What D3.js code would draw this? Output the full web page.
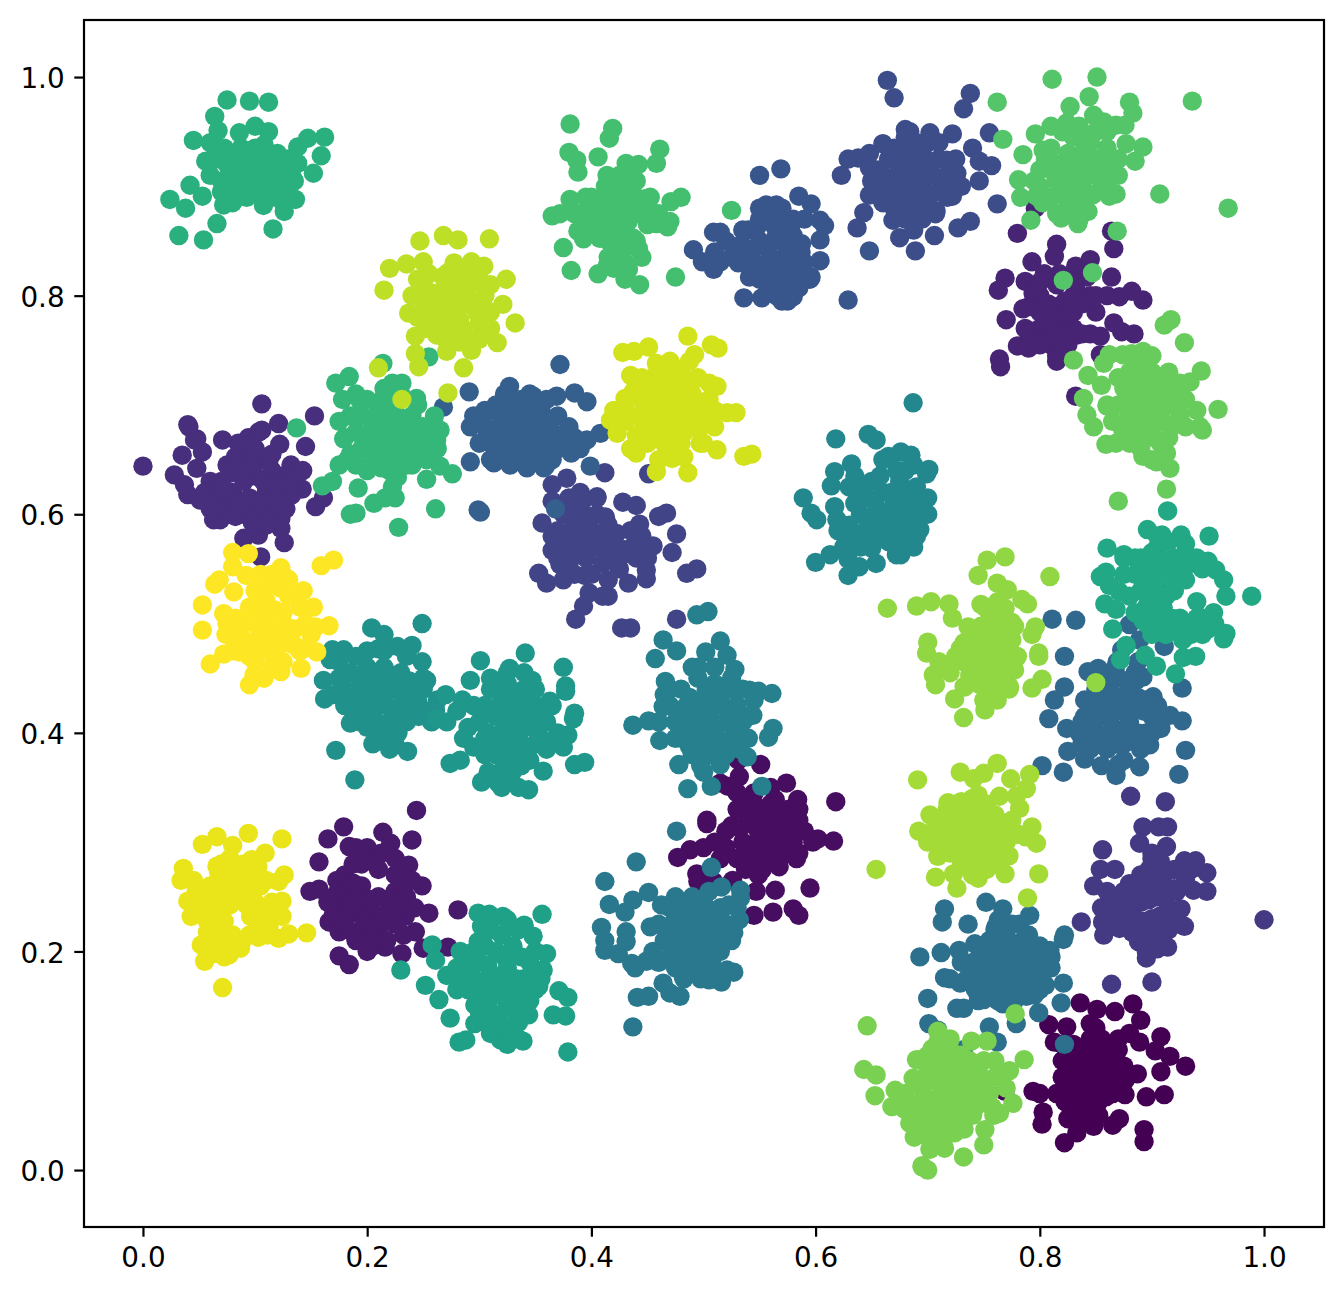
<!DOCTYPE html>
<html><head><meta charset="utf-8">
<script src="https://cdnjs.cloudflare.com/ajax/libs/d3/7.8.5/d3.min.js"></script>
<style>html,body{margin:0;padding:0;background:#fff}svg{display:block}</style>
</head><body><div id="chart"></div>
<script>
const xTicks=[0,0.2,0.4,0.6,0.8,1.0];
const yTicks=[0,0.2,0.4,0.6,0.8,1.0];
const c00=[[.836,.153],[.851,.147],[.867,.145],[.883,.152],[.890,.137],[.808,.133],[.824,.131],[.880,.125],[.845,.134],[.908,.122],[.889,.117],[.903,.109],[.916,.104],[.930,.095],[.908,.090],[.887,.088],[.876,.082],[.911,.069],[.895,.067],[.876,.069],[.794,.072],[.769,.072],[.803,.053],[.802,.042],[.825,.047],[.833,.034],[.822,.025],[.848,.040],[.865,.041],[.871,.047],[.893,.037],[.893,.026],[.859,.067],[.813,.117],[.839,.061],[.83,.115],[.845,.12],[.86,.115],[.82,.10],[.835,.10],[.85,.105],[.865,.10],[.82,.085],[.835,.085],[.85,.09],[.865,.085],[.825,.07],[.84,.07],[.855,.075],[.815,.07],[.83,.055],[.845,.055],[.80,.07],[.87,.11],[.8275,.1075],[.8425,.1125],[.8575,.11],[.8275,.0925],[.8425,.095],[.8575,.0975],[.8275,.0775],[.8425,.08],[.8575,.0825],[.8375,.0625],[.8525,.0625],[.8225,.0625],[.8375,.0475],[.8525,.05],[.85,.13],[.855,.12],[.87,.12],[.875,.095],[.82,.115],[.865,.07]];
const c01=[[.531,.375],[.551,.371],[.532,.360],[.574,.354],[.618,.337],[.522,.351],[.515,.354],[.535,.339],[.564,.339],[.584,.339],[.503,.320],[.577,.329],[.602,.303],[.616,.301],[.488,.293],[.477,.286],[.494,.271],[.495,.264],[.509,.264],[.526,.265],[.547,.255],[.564,.256],[.595,.258],[.580,.239],[.585,.233],[.562,.236],[.545,.233],[.549,.270],[.583,.285],[.570,.290],[.503,.317],[.53,.33],[.545,.335],[.56,.335],[.575,.33],[.525,.315],[.54,.32],[.555,.32],[.57,.315],[.585,.32],[.535,.30],[.55,.305],[.565,.30],[.58,.30],[.59,.31],[.53,.285],[.545,.285],[.56,.285],[.575,.29],[.51,.30],[.52,.295],[.5375,.3275],[.5525,.3275],[.5675,.325],[.5325,.3125],[.5475,.3125],[.5625,.3075],[.5775,.3075],[.5425,.2925],[.5575,.295],[.5725,.295],[.5375,.275],[.5525,.275],[.5675,.2775],[.585,.29],[.52,.31],[.515,.285],[.5975,.3],[.585,.33],[.545,.345],[.56,.35],[.53,.345],[.5,.295]];
const c02=[[.244,.329],[.179,.314],[.165,.303],[.157,.282],[.214,.309],[.240,.302],[.221,.299],[.184,.296],[.237,.279],[.249,.260],[.255,.235],[.281,.238],[.149,.255],[.157,.257],[.166,.227],[.175,.218],[.234,.232],[.243,.218],[.231,.198],[.250,.203],[.272,.204],[.175,.196],[.184,.188],[.216,.204],[.201,.203],[.173,.265],[.113,.229],[.18,.27],[.195,.28],[.21,.275],[.225,.27],[.18,.255],[.195,.26],[.21,.25],[.225,.255],[.175,.24],[.19,.24],[.205,.235],[.22,.24],[.18,.225],[.195,.22],[.21,.22],[.225,.225],[.19,.21],[.205,.205],[.235,.25],[.20,.295],[.225,.285],[.19,.295],[.1875,.2625],[.1875,.2475],[.2025,.2475],[.2175,.2475],[.2325,.2625],[.2175,.2325],[.1825,.2325],[.1975,.2285],[.2125,.2275],[.2275,.24],[.1875,.2175],[.2025,.2125],[.2175,.21],[.1725,.2525],[.2425,.24],[.2,.285],[.2125,.29],[.1875,.28],[.17,.235],[.24,.265],[.2325,.215],[.2,.2],[.165,.245]];
const c03=[[.796,.880],[.780,.857],[.864,.859],[.866,.843],[.815,.847],[.813,.836],[.793,.831],[.804,.820],[.832,.827],[.845,.833],[.842,.817],[.864,.817],[.769,.816],[.763,.805],[.787,.813],[.794,.802],[.871,.799],[.882,.804],[.892,.796],[.785,.788],[.770,.778],[.787,.770],[.780,.754],[.790,.752],[.764,.742],[.765,.735],[.815,.740],[.833,.764],[.854,.763],[.866,.775],[.873,.767],[.884,.765],[.854,.746],[.832,.708],[.80,.80],[.815,.81],[.83,.80],[.845,.80],[.86,.80],[.80,.785],[.815,.79],[.83,.785],[.85,.785],[.80,.77],[.815,.775],[.83,.77],[.845,.765],[.81,.755],[.825,.755],[.815,.745],[.81,.76],[.8075,.7925],[.8225,.795],[.8375,.7925],[.8075,.7775],[.8225,.78],[.8075,.7625],[.8225,.7625],[.8375,.765],[.8175,.7475],[.8325,.805],[.8175,.82],[.83,.8125],[.8,.8125],[.79,.79],[.79,.765],[.8,.755],[.85,.8]];
const c04=[[0,.644],[.028,.636],[.048,.642],[.035,.654],[.041,.680],[.048,.669],[.053,.657],[.040,.618],[.037,.627],[.071,.668],[.094,.670],[.106,.677],[.121,.683],[.122,.664],[.145,.662],[.153,.690],[.154,.607],[.161,.615],[.142,.623],[.132,.645],[.138,.637],[.063,.595],[.069,.595],[.123,.596],[.123,.587],[.126,.574],[.090,.578],[.103,.581],[.105,.561],[.051,.613],[.106,.701],[.040,.682],[.046,.668],[.103,.675],[.075,.645],[.09,.655],[.105,.65],[.07,.63],[.085,.64],[.10,.635],[.115,.64],[.125,.635],[.065,.615],[.08,.62],[.095,.615],[.11,.62],[.125,.62],[.075,.605],[.09,.60],[.105,.60],[.115,.605],[.10,.585],[.06,.63],[.135,.63],[.0825,.6525],[.0975,.645],[.1125,.65],[.0775,.6375],[.09,.63],[.1075,.63],[.12,.6275],[.0725,.6225],[.0875,.61],[.1025,.61],[.118,.6125],[.07,.6075],[.0825,.598],[.0975,.5925],[.11,.59],[.055,.62],[.1325,.6175],[.1275,.605],[.1,.66],[.085,.665],[.115,.655],[.06,.605],[.1425,.64]];
const c05=[[.881,.342],[.912,.337],[.856,.293],[.892,.314],[.906,.314],[.914,.314],[.889,.299],[.913,.296],[.900,.290],[.929,.283],[.939,.283],[.949,.272],[.949,.255],[.937,.256],[.854,.275],[.867,.275],[.848,.260],[.855,.240],[.856,.227],[.857,.215],[.837,.227],[1.0,.229],[.864,.170],[.900,.172],[.895,.194],[.888,.209],[.914,.204],[.929,.223],[.871,.221],[.922,.255],[.926,.239],[.880,.262],[.875,.25],[.89,.245],[.905,.25],[.885,.23],[.90,.23],[.915,.24],[.90,.215],[.915,.22],[.89,.215],[.895,.20],[.905,.27],[.90,.285],[.89,.27],[.87,.235],[.92,.275],[.93,.265],[.91,.26],[.86,.255],[.8825,.2475],[.8975,.2475],[.8925,.2275],[.9075,.2325],[.8825,.2175],[.9075,.2175],[.8975,.2075],[.9,.26],[.9125,.2475],[.8925,.26],[.9075,.2825],[.8975,.275],[.9125,.2725],[.88,.24],[.865,.245],[.875,.225],[.92,.2575],[.92,.225],[.905,.2025],[.875,.255],[.86,.23],[.935,.275]];
const c06=[[.412,.638],[.451,.637],[.378,.633],[.365,.627],[.365,.612],[.356,.592],[.405,.616],[.387,.607],[.428,.611],[.440,.608],[.467,.601],[.460,.598],[.443,.591],[.476,.582],[.472,.565],[.455,.571],[.439,.573],[.365,.567],[.372,.554],[.353,.546],[.360,.537],[.394,.544],[.398,.528],[.393,.516],[.386,.504],[.415,.525],[.427,.496],[.435,.496],[.476,.504],[.494,.550],[.485,.546],[.449,.549],[.433,.537],[.449,.541],[.375,.60],[.39,.605],[.405,.60],[.37,.585],[.385,.59],[.40,.585],[.415,.59],[.375,.57],[.39,.575],[.405,.57],[.42,.575],[.38,.555],[.395,.56],[.41,.555],[.425,.55],[.445,.58],[.45,.56],[.425,.56],[.39,.62],[.3825,.5975],[.3975,.5975],[.4125,.5975],[.3775,.5775],[.3925,.5825],[.4075,.5775],[.4225,.5825],[.3825,.5625],[.3975,.5675],[.4125,.5625],[.385,.545],[.4,.545],[.415,.54],[.43,.5675],[.44,.56],[.435,.585],[.37,.56],[.365,.58],[.3925,.6125],[.405,.615],[.38,.615],[.375,.54],[.41,.525],[.445,.565]];
const c07=[[.664,.997],[.670,.981],[.680,.952],[.660,.939],[.648,.930],[.638,.926],[.629,.925],[.623,.910],[.648,.917],[.648,.892],[.643,.876],[.637,.862],[.669,.869],[.675,.853],[.689,.841],[.738,.985],[.732,.971],[.755,.949],[.740,.935],[.746,.923],[.757,.919],[.746,.905],[.762,.884],[.738,.868],[.727,.862],[.706,.855],[.707,.875],[.722,.891],[.722,.948],[.702,.949],[.684,.950],[.726,.912],[.717,.924],[.665,.925],[.68,.93],[.695,.93],[.71,.925],[.66,.91],[.675,.915],[.69,.915],[.705,.91],[.72,.915],[.665,.895],[.68,.90],[.695,.90],[.71,.895],[.72,.90],[.67,.88],[.685,.885],[.70,.885],[.68,.87],[.695,.87],[.66,.90],[.69,.94],[.6725,.9225],[.6875,.9225],[.7025,.9225],[.6675,.905],[.6825,.9075],[.6975,.9075],[.7125,.9075],[.6725,.8875],[.6875,.8925],[.7025,.8925],[.7175,.89],[.6775,.875],[.6925,.8775],[.7075,.8775],[.6875,.86],[.655,.915],[.725,.925],[.7,.94],[.68,.945],[.65,.905],[.66,.885],[.71,.94],[.73,.9],[.67,.935]];
const c08=[[.550,.910],[.569,.916],[.585,.891],[.596,.884],[.604,.869],[.608,.864],[.604,.851],[.556,.883],[.565,.883],[.515,.858],[.509,.858],[.491,.842],[.499,.831],[.509,.824],[.515,.831],[.531,.830],[.541,.817],[.536,.798],[.552,.798],[.570,.795],[.580,.799],[.585,.807],[.596,.817],[.604,.832],[.587,.840],[.629,.796],[.648,.841],[.54,.86],[.55,.87],[.56,.875],[.57,.87],[.58,.87],[.535,.845],[.55,.85],[.565,.855],[.58,.855],[.545,.83],[.56,.835],[.575,.84],[.55,.815],[.565,.82],[.58,.82],[.59,.83],[.53,.845],[.52,.85],[.57,.805],[.59,.87],[.5475,.8625],[.5625,.865],[.5775,.8625],[.5425,.8375],[.5575,.8425],[.5725,.8475],[.5875,.8475],[.5375,.83],[.5525,.825],[.5675,.8275],[.5825,.83],[.5575,.8075],[.5725,.8125],[.5875,.8125],[.525,.835],[.55,.88],[.57,.88],[.565,.80],[.575,.795],[.535,.86],[.51,.84],[.595,.815]];
const c09=[[.291,.712],[.268,.698],[.372,.737],[.327,.717],[.348,.708],[.385,.711],[.396,.703],[.369,.708],[.292,.648],[.313,.647],[.292,.680],[.299,.604],[.301,.602],[.399,.644],[.408,.674],[.396,.668],[.382,.656],[.359,.644],[.341,.645],[.326,.653],[.368,.605],[.31,.695],[.325,.70],[.34,.695],[.355,.695],[.37,.69],[.305,.68],[.32,.685],[.335,.68],[.35,.68],[.365,.675],[.38,.68],[.31,.665],[.325,.67],[.34,.665],[.355,.665],[.37,.66],[.385,.67],[.32,.655],[.335,.65],[.35,.65],[.365,.65],[.345,.71],[.295,.69],[.31,.65],[.30,.665],[.3175,.6925],[.3325,.69],[.3475,.69],[.3625,.685],[.3125,.675],[.3275,.675],[.3425,.6725],[.3575,.6725],[.3725,.6725],[.3175,.66],[.3325,.66],[.3475,.6575],[.3625,.6575],[.3775,.665],[.3275,.645],[.3425,.6425],[.3575,.6425],[.3375,.705],[.3225,.71],[.36,.705],[.305,.695],[.39,.66],[.315,.7]];
const c10=[[.811,.504],[.832,.503],[.822,.470],[.880,.499],[.889,.485],[.911,.479],[.873,.476],[.869,.465],[.843,.456],[.852,.459],[.862,.451],[.822,.442],[.813,.430],[.808,.413],[.824,.404],[.825,.383],[.840,.376],[.870,.371],[.868,.361],[.889,.369],[.802,.370],[.821,.364],[.927,.441],[.927,.411],[.930,.384],[.924,.362],[.908,.404],[.916,.416],[.898,.389],[.886,.448],[.901,.433],[.892,.451],[.85,.43],[.865,.435],[.88,.44],[.895,.43],[.84,.415],[.855,.415],[.87,.42],[.885,.425],[.90,.415],[.85,.40],[.865,.405],[.88,.41],[.895,.40],[.86,.385],[.875,.39],[.89,.385],[.845,.385],[.87,.45],[.885,.455],[.86,.445],[.835,.40],[.8575,.4275],[.8725,.4325],[.8875,.4325],[.8475,.4225],[.8625,.42],[.8775,.4225],[.8925,.42],[.8475,.4075],[.8575,.3975],[.8725,.4],[.8875,.4],[.8675,.39],[.8825,.3925],[.8525,.39],[.8375,.41],[.8375,.39],[.875,.375],[.855,.37],[.85,.44],[.8775,.4475],[.84,.43],[.9,.4],[.905,.425],[.8675,.46],[.8875,.465]];
const c11=[[.715,.239],[.713,.227],[.736,.225],[.752,.245],[.767,.239],[.763,.229],[.761,.223],[.782,.225],[.791,.233],[.822,.215],[.821,.211],[.693,.195],[.712,.199],[.728,.201],[.742,.207],[.700,.157],[.701,.134],[.709,.128],[.809,.201],[.715,.176],[.729,.171],[.821,.171],[.805,.169],[.819,.153],[.799,.144],[.779,.134],[.755,.131],[.762,.117],[.732,.110],[.726,.148],[.732,.148],[.750,.156],[.767,.152],[.788,.159],[.822,.115],[.755,.21],[.77,.215],[.785,.21],[.80,.205],[.75,.195],[.765,.20],[.78,.195],[.795,.19],[.81,.185],[.745,.18],[.76,.185],[.775,.18],[.79,.175],[.755,.165],[.77,.165],[.785,.16],[.74,.19],[.735,.175],[.80,.165],[.7625,.2075],[.7775,.205],[.7925,.2],[.7575,.19],[.7725,.19],[.7875,.185],[.8025,.18],[.7525,.175],[.7675,.175],[.7825,.17],[.7975,.175],[.7625,.155],[.7775,.155],[.7475,.205],[.73,.19],[.7425,.165],[.81,.195],[.795,.16],[.775,.225],[.76,.22],[.72,.175],[.8,.195],[.745,.155],[.79,.215]];
const c12=[[.476,.310],[.440,.282],[.412,.264],[.507,.277],[.516,.259],[.533,.256],[.533,.249],[.532,.229],[.451,.254],[.437,.247],[.416,.243],[.430,.236],[.409,.222],[.412,.210],[.412,.201],[.424,.198],[.431,.218],[.431,.209],[.439,.185],[.436,.189],[.449,.191],[.527,.217],[.527,.181],[.521,.183],[.516,.172],[.505,.174],[.482,.177],[.464,.171],[.479,.159],[.470,.162],[.451,.159],[.441,.158],[.437,.131],[.515,.236],[.47,.24],[.485,.245],[.50,.245],[.515,.24],[.46,.225],[.475,.23],[.49,.23],[.505,.23],[.52,.225],[.465,.21],[.48,.215],[.495,.215],[.51,.215],[.47,.195],[.485,.20],[.50,.20],[.515,.20],[.475,.185],[.49,.185],[.505,.185],[.455,.20],[.4775,.235],[.4925,.2375],[.5075,.2375],[.4675,.2175],[.4825,.2225],[.4975,.2225],[.5125,.2275],[.4725,.2025],[.4875,.2075],[.5025,.2075],[.5175,.2125],[.4775,.19],[.4925,.1925],[.5075,.1925],[.4825,.175],[.4975,.175],[.51,.175],[.49,.25],[.505,.255],[.475,.25],[.4625,.2425],[.525,.21],[.46,.19],[.5225,.2425],[.4525,.2225],[.53,.24]];
const c13=[[.504,.511],[.494,.508],[.464,.485],[.476,.475],[.457,.468],[.515,.484],[.502,.474],[.521,.471],[.528,.458],[.490,.460],[.466,.447],[.561,.436],[.541,.439],[.549,.438],[.437,.407],[.451,.411],[.464,.424],[.461,.393],[.562,.404],[.558,.396],[.544,.416],[.539,.378],[.515,.371],[.478,.371],[.500,.364],[.486,.349],[.507,.351],[.552,.351],[.48,.44],[.495,.45],[.51,.445],[.525,.44],[.47,.425],[.485,.425],[.50,.43],[.515,.43],[.53,.425],[.475,.41],[.49,.41],[.505,.415],[.52,.41],[.535,.41],[.48,.395],[.495,.395],[.51,.40],[.525,.395],[.54,.395],[.49,.38],[.505,.38],[.52,.38],[.545,.43],[.4875,.4325],[.5025,.44],[.5175,.4375],[.4775,.4175],[.4925,.4175],[.5075,.4225],[.5225,.4175],[.4825,.4025],[.4975,.4025],[.5125,.4075],[.5275,.4025],[.4875,.3875],[.5025,.3875],[.5175,.3875],[.5325,.385],[.4975,.37],[.47,.44],[.46,.41],[.475,.395],[.54,.415],[.535,.44],[.495,.46],[.51,.46],[.525,.45],[.465,.435]];
const c14=[[.687,.702],[.618,.669],[.647,.673],[.654,.668],[.665,.653],[.676,.657],[.685,.654],[.632,.646],[.617,.639],[.614,.626],[.589,.615],[.596,.601],[.601,.595],[.617,.607],[.619,.595],[.600,.556],[.613,.563],[.629,.559],[.629,.544],[.639,.552],[.654,.555],[.672,.563],[.676,.563],[.650,.569],[.633,.579],[.701,.641],[.699,.637],[.696,.611],[.693,.586],[.687,.595],[.645,.615],[.66,.62],[.675,.63],[.69,.625],[.64,.60],[.655,.605],[.67,.61],[.685,.61],[.645,.585],[.66,.59],[.675,.595],[.69,.595],[.665,.575],[.68,.58],[.635,.61],[.63,.625],[.68,.64],[.63,.59],[.635,.635],[.65,.63],[.6525,.6125],[.6675,.62],[.6825,.62],[.6475,.5925],[.6625,.5975],[.6775,.6025],[.6925,.61],[.6525,.5775],[.6675,.5825],[.6825,.5875],[.6725,.5675],[.6875,.57],[.6425,.6225],[.6575,.635],[.6725,.64],[.6875,.645],[.64,.57],[.66,.65],[.62,.585],[.635,.575],[.625,.57],[.7,.615],[.7,.6],[.69,.58]];
const c15=[[.249,.500],[.204,.496],[.215,.490],[.240,.480],[.210,.477],[.169,.476],[.179,.476],[.167,.467],[.249,.465],[.161,.448],[.162,.431],[.253,.448],[.246,.415],[.227,.479],[.188,.418],[.185,.409],[.194,.410],[.213,.393],[.225,.389],[.236,.383],[.172,.384],[.189,.357],[.261,.421],[.185,.455],[.20,.46],[.215,.46],[.23,.455],[.18,.44],[.195,.445],[.21,.445],[.225,.44],[.24,.44],[.185,.425],[.20,.43],[.215,.43],[.23,.425],[.245,.43],[.205,.415],[.22,.41],[.235,.41],[.21,.40],[.22,.40],[.175,.465],[.19,.47],[.255,.42],[.1925,.4525],[.2075,.4525],[.2225,.4525],[.1875,.4325],[.2025,.4375],[.2175,.4375],[.2325,.4325],[.1925,.42],[.2075,.4225],[.2225,.42],[.2375,.4225],[.2125,.4075],[.2275,.4],[.2,.405],[.2375,.4475],[.25,.45],[.175,.45],[.17,.435],[.18,.425],[.2,.475],[.215,.475],[.235,.47],[.25,.44],[.2625,.43],[.205,.39],[.19,.4125],[.2575,.41],[.22,.385]];
const c16=[[.301,.466],[.292,.448],[.270,.435],[.285,.430],[.271,.410],[.262,.413],[.274,.372],[.283,.375],[.302,.355],[.308,.364],[.317,.354],[.295,.387],[.286,.395],[.341,.473],[.375,.460],[.377,.443],[.377,.438],[.385,.418],[.384,.413],[.379,.398],[.375,.387],[.360,.392],[.385,.371],[.394,.373],[.357,.365],[.344,.348],[.322,.354],[.327,.459],[.347,.448],[.363,.429],[.31,.44],[.325,.445],[.34,.44],[.305,.425],[.32,.43],[.335,.425],[.35,.425],[.30,.41],[.315,.415],[.33,.41],[.345,.41],[.36,.41],[.305,.395],[.32,.395],[.335,.395],[.35,.39],[.315,.38],[.33,.38],[.345,.375],[.32,.365],[.33,.365],[.3175,.4375],[.3325,.4325],[.3475,.4275],[.3125,.42],[.3275,.42],[.3425,.4175],[.3575,.42],[.3075,.4],[.3225,.405],[.3375,.4025],[.3525,.4],[.3125,.3875],[.3275,.3875],[.3425,.385],[.3225,.3725],[.3375,.37],[.295,.425],[.29,.405],[.28,.42],[.365,.425],[.37,.4],[.36,.385],[.325,.455],[.34,.455],[.35,.44],[.31,.45],[.305,.38],[.32,.35],[.335,.35]];
const c17=[[.299,.235],[.309,.234],[.302,.223],[.258,.206],[.261,.192],[.230,.183],[.252,.169],[.283,.200],[.264,.156],[.274,.139],[.288,.119],[.282,.117],[.299,.209],[.271,.178],[.296,.134],[.319,.119],[.296,.151],[.321,.232],[.325,.229],[.356,.234],[.340,.224],[.348,.214],[.360,.198],[.357,.183],[.353,.168],[.371,.164],[.379,.158],[.366,.142],[.377,.141],[.379,.108],[.339,.118],[.322,.119],[.344,.142],[.30,.19],[.315,.20],[.33,.205],[.345,.19],[.295,.175],[.31,.18],[.325,.185],[.34,.175],[.35,.165],[.30,.16],[.315,.165],[.33,.165],[.345,.155],[.31,.145],[.325,.15],[.335,.135],[.31,.125],[.325,.13],[.29,.19],[.285,.175],[.3075,.1875],[.3225,.195],[.3375,.195],[.3025,.1675],[.3175,.1725],[.3325,.175],[.3475,.18],[.3075,.1525],[.3225,.1575],[.3375,.16],[.3175,.1375],[.3325,.145],[.34,.145],[.305,.205],[.32,.215],[.335,.22],[.35,.2],[.295,.2],[.28,.185],[.3,.145],[.325,.115],[.335,.12],[.305,.135],[.29,.165],[.31,.22],[.355,.175],[.28,.165]];
const c18=[[.914,.603],[.951,.580],[.896,.586],[.909,.581],[.926,.581],[.930,.573],[.860,.569],[.875,.563],[.950,.557],[.957,.549],[.964,.540],[.966,.525],[.989,.525],[.854,.543],[.859,.547],[.862,.535],[.871,.529],[.858,.518],[.868,.513],[.865,.495],[.940,.520],[.956,.500],[.966,.491],[.964,.486],[.877,.480],[.872,.467],[.894,.471],[.904,.461],[.921,.454],[.939,.470],[.928,.469],[.892,.503],[.908,.493],[.89,.56],[.905,.57],[.92,.56],[.935,.555],[.885,.545],[.90,.55],[.915,.545],[.93,.54],[.89,.53],[.905,.535],[.92,.53],[.895,.515],[.91,.515],[.925,.505],[.94,.505],[.905,.50],[.92,.495],[.935,.49],[.95,.495],[.945,.55],[.875,.56],[.88,.525],[.8975,.5525],[.9125,.5575],[.9275,.55],[.8925,.5375],[.9075,.5425],[.9225,.5375],[.8975,.5225],[.9125,.525],[.9025,.5075],[.9175,.505],[.9325,.4975],[.9125,.49],[.9275,.485],[.945,.505],[.9,.565],[.915,.575],[.93,.565],[.94,.56],[.885,.56],[.875,.545],[.945,.49],[.895,.5],[.885,.51],[.9,.49],[.905,.58],[.955,.51]];
const c19=[[.075,.979],[.095,.978],[.112,.977],[.064,.964],[.045,.942],[.067,.951],[.086,.949],[.100,.955],[.112,.950],[.162,.945],[.147,.944],[.138,.936],[.159,.928],[.152,.912],[.138,.921],[.123,.926],[.108,.938],[.056,.923],[.024,.888],[.038,.880],[.042,.901],[.053,.891],[.072,.883],[.066,.866],[.032,.855],[.054,.851],[.116,.861],[.126,.877],[.136,.888],[.075,.92],[.085,.925],[.095,.93],[.105,.925],[.115,.92],[.125,.915],[.08,.905],[.09,.91],[.10,.91],[.11,.905],[.12,.90],[.13,.90],[.07,.895],[.085,.895],[.10,.895],[.115,.89],[.125,.885],[.135,.905],[.065,.925],[.07,.905],[.0825,.9125],[.0975,.92],[.11,.9125],[.1225,.91],[.0775,.9],[.0925,.9],[.1075,.8975],[.1175,.9],[.0925,.89],[.1075,.8825],[.12,.8925],[.1275,.8925],[.1,.935],[.11,.93],[.12,.93],[.1325,.91],[.13,.925],[.0875,.935],[.0725,.935],[.06,.91],[.06,.94],[.08,.885]];
const c20=[[.184,.726],[.172,.720],[.215,.715],[.231,.720],[.214,.738],[.255,.744],[.244,.706],[.178,.705],[.194,.703],[.179,.669],[.265,.677],[.262,.668],[.175,.645],[.160,.626],[.169,.630],[.192,.624],[.276,.637],[.265,.644],[.253,.632],[.225,.615],[.216,.615],[.206,.610],[.190,.601],[.185,.600],[.261,.605],[.228,.588],[.227,.634],[.253,.650],[.137,.679],[.195,.69],[.21,.695],[.225,.70],[.24,.69],[.25,.68],[.19,.675],[.205,.68],[.22,.685],[.235,.675],[.25,.665],[.195,.66],[.21,.665],[.225,.67],[.24,.66],[.205,.65],[.22,.655],[.235,.645],[.19,.645],[.22,.64],[.26,.69],[.185,.69],[.175,.685],[.2025,.6875],[.2175,.6925],[.2325,.6875],[.1975,.6675],[.2125,.6725],[.2275,.6775],[.2425,.675],[.2025,.6575],[.2175,.6625],[.2325,.66],[.2125,.6425],[.2275,.6475],[.2,.64],[.215,.7075],[.2,.705],[.23,.71],[.245,.7],[.2575,.675],[.18,.67],[.185,.655],[.24,.645],[.25,.655],[.2625,.66],[.19,.71],[.1825,.65],[.2225,.625],[.2225,.72]];
const c21=[[.381,.957],[.419,.953],[.416,.944],[.380,.931],[.406,.927],[.461,.934],[.387,.924],[.388,.913],[.458,.921],[.414,.910],[.431,.921],[.442,.920],[.449,.889],[.480,.890],[.471,.886],[.470,.868],[.468,.863],[.458,.866],[.365,.873],[.372,.875],[.381,.888],[.388,.859],[.393,.852],[.375,.844],[.382,.823],[.406,.820],[.414,.827],[.433,.824],[.443,.810],[.475,.817],[.442,.843],[.525,.878],[.40,.89],[.41,.88],[.42,.89],[.43,.90],[.44,.89],[.45,.88],[.40,.875],[.41,.865],[.425,.875],[.44,.875],[.45,.865],[.40,.86],[.415,.85],[.43,.86],[.44,.85],[.425,.84],[.42,.905],[.435,.91],[.415,.835],[.43,.83],[.425,.91],[.4075,.8875],[.4225,.8825],[.4375,.8825],[.4025,.8675],[.4175,.8725],[.4325,.8675],[.4475,.8725],[.4075,.8525],[.4225,.8575],[.4375,.8525],[.4275,.8925],[.4325,.9125],[.4225,.8475],[.4325,.845],[.42,.825],[.44,.905],[.4125,.9],[.46,.875],[.39,.875],[.395,.89],[.385,.875],[.39,.86],[.4525,.89],[.42,.865],[.43,.815],[.445,.835]];
const c22=[[.762,.977],[.811,.998],[.851,1.0],[.844,.982],[.827,.973],[.936,.978],[.880,.977],[.883,.967],[.767,.943],[.785,.929],[.796,.948],[.810,.955],[.824,.958],[.848,.965],[.857,.959],[.868,.956],[.876,.956],[.892,.936],[.877,.939],[.885,.923],[.907,.893],[.968,.880],[.781,.906],[.783,.890],[.792,.869],[.868,.893],[.862,.891],[.834,.866],[.819,.871],[.843,.877],[.803,.933],[.797,.891],[.859,.909],[.821,.814],[.847,.821],[.869,.859],[.815,.92],[.825,.93],[.84,.935],[.85,.925],[.815,.905],[.83,.915],[.845,.91],[.855,.905],[.825,.90],[.84,.895],[.81,.89],[.825,.885],[.84,.88],[.83,.945],[.845,.945],[.86,.935],[.87,.925],[.80,.915],[.80,.90],[.82,.875],[.82,.95],[.8225,.9125],[.8375,.9125],[.8525,.915],[.8225,.8925],[.8325,.8975],[.8475,.8925],[.8175,.8975],[.8325,.925],[.8475,.925],[.8625,.92],[.8125,.9125],[.8325,.8825],[.845,.94],[.835,.955],[.85,.95],[.86,.95],[.805,.925],[.81,.935],[.795,.905],[.8025,.885],[.815,.875],[.8625,.895],[.835,.87],[.87,.91]];
const c23=[[.917,.778],[.911,.773],[.929,.757],[.944,.731],[.934,.721],[.959,.696],[.892,.749],[.882,.747],[.874,.746],[.862,.746],[.857,.738],[.843,.727],[.855,.718],[.830,.741],[.839,.706],[.860,.699],[.842,.691],[.891,.735],[.913,.724],[.848,.680],[.859,.664],[.868,.665],[.892,.653],[.904,.648],[.913,.656],[.916,.642],[.913,.623],[.870,.612],[.945,.677],[.943,.680],[.925,.683],[.874,.677],[.875,.715],[.89,.72],[.905,.715],[.92,.715],[.87,.70],[.885,.705],[.90,.70],[.915,.70],[.88,.69],[.895,.69],[.91,.685],[.925,.69],[.885,.675],[.90,.675],[.915,.67],[.89,.66],[.88,.73],[.90,.73],[.865,.685],[.93,.705],[.8825,.7125],[.8975,.7125],[.9125,.7075],[.8775,.7],[.8925,.7],[.9075,.695],[.9225,.7],[.8875,.6825],[.9025,.6825],[.9175,.68],[.8925,.6675],[.9075,.665],[.8975,.7275],[.9125,.7275],[.8875,.725],[.925,.72],[.87,.725],[.9,.65],[.875,.68],[.86,.7],[.93,.68],[.94,.695],[.88,.665],[.915,.73],[.9,.745]];
const c24=[[.646,.132],[.643,.092],[.654,.087],[.653,.068],[.671,.073],[.668,.058],[.679,.056],[.684,.043],[.688,.030],[.695,.004],[.693,.101],[.687,.084],[.709,.127],[.709,.117],[.704,.111],[.690,.101],[.739,.118],[.753,.118],[.724,.102],[.786,.101],[.773,.091],[.776,.061],[.764,.052],[.759,.050],[.751,.037],[.750,.023],[.724,.034],[.709,.025],[.702,.019],[.732,.012],[.695,.003],[.700,0],[.778,.143],[.70,.09],[.715,.095],[.73,.09],[.745,.09],[.76,.085],[.695,.075],[.71,.08],[.725,.075],[.74,.075],[.755,.07],[.69,.06],[.705,.06],[.72,.06],[.735,.06],[.75,.065],[.695,.045],[.71,.045],[.725,.045],[.74,.05],[.70,.03],[.715,.03],[.69,.035],[.73,.105],[.72,.11],[.7025,.0825],[.7175,.0875],[.7325,.0825],[.7475,.0825],[.6975,.0675],[.7125,.07],[.7275,.0675],[.7425,.0675],[.6975,.0525],[.7125,.0525],[.7275,.0525],[.7425,.0575],[.7025,.0375],[.7175,.0375],[.7325,.0375],[.7075,.0975],[.7225,.0975],[.7375,.1],[.68,.07],[.685,.05],[.7,.105],[.75,.1],[.7575,.0575],[.77,.075],[.72,.12],[.6825,.06],[.715,.02],[.71,.11],[.76,.1]];
const c25=[[.753,.558],[.769,.561],[.809,.543],[.745,.544],[.762,.537],[.771,.531],[.784,.522],[.789,.518],[.751,.515],[.769,.514],[.775,.501],[.719,.518],[.722,.505],[.703,.520],[.690,.516],[.796,.497],[.793,.490],[.736,.497],[.700,.483],[.699,.473],[.729,.477],[.799,.473],[.799,.470],[.705,.453],[.707,.444],[.802,.449],[.793,.441],[.773,.442],[.724,.431],[.732,.414],[.751,.421],[.762,.430],[.733,.442],[.717,.458],[.776,.462],[.664,.514],[.850,.446],[.74,.49],[.755,.495],[.77,.49],[.74,.475],[.755,.48],[.77,.475],[.78,.47],[.725,.47],[.74,.46],[.755,.465],[.77,.455],[.745,.445],[.76,.445],[.75,.43],[.76,.505],[.755,.51],[.71,.465],[.72,.455],[.7475,.4825],[.7625,.4875],[.7475,.4975],[.7325,.4825],[.7475,.4675],[.7625,.4725],[.7325,.465],[.7475,.455],[.7625,.455],[.7575,.435],[.7675,.465],[.775,.485],[.7675,.5025],[.7375,.4525],[.7725,.44],[.7775,.4575],[.7325,.4425],[.7625,.52],[.7475,.5175],[.7775,.4975]];
const c26=[[.691,.357],[.729,.364],[.762,.372],[.750,.363],[.741,.358],[.774,.358],[.791,.362],[.788,.349],[.779,.342],[.764,.342],[.745,.343],[.730,.337],[.718,.336],[.702,.325],[.782,.331],[.692,.310],[.707,.268],[.726,.258],[.745,.267],[.769,.271],[.799,.271],[.789,.249],[.797,.299],[.787,.305],[.779,.307],[.793,.314],[.709,.287],[.723,.271],[.761,.284],[.654,.275],[.715,.32],[.73,.325],[.745,.33],[.76,.325],[.72,.305],[.735,.31],[.75,.315],[.765,.31],[.775,.32],[.72,.29],[.735,.295],[.75,.30],[.765,.295],[.73,.28],[.745,.285],[.76,.28],[.74,.27],[.71,.30],[.725,.335],[.705,.31],[.74,.34],[.7225,.3175],[.7375,.3175],[.7525,.3225],[.7675,.3175],[.7275,.2975],[.7425,.3025],[.7575,.3075],[.735,.285],[.7425,.2925],[.7575,.29],[.7375,.2775],[.7525,.275],[.7125,.31],[.7125,.2925],[.7325,.3325],[.7175,.33],[.7525,.335],[.77,.3],[.7725,.2875],[.7,.3],[.78,.3075]];
const c27=[[.247,.850],[.268,.855],[.281,.851],[.309,.852],[.220,.825],[.235,.829],[.250,.831],[.215,.805],[.237,.784],[.272,.821],[.293,.831],[.304,.827],[.324,.815],[.321,.792],[.332,.775],[.316,.757],[.243,.763],[.243,.747],[.246,.735],[.271,.749],[.293,.750],[.286,.734],[.262,.764],[.272,.711],[.210,.734],[.231,.705],[.25,.81],[.26,.80],[.27,.81],[.28,.80],[.29,.81],[.30,.815],[.25,.795],[.265,.785],[.28,.785],[.295,.795],[.305,.80],[.27,.795],[.26,.775],[.285,.77],[.30,.775],[.31,.785],[.275,.77],[.295,.76],[.245,.78],[.24,.80],[.255,.82],[.29,.825],[.285,.81],[.2575,.8025],[.2725,.8025],[.2875,.8025],[.2575,.7875],[.2725,.7875],[.2875,.7925],[.3025,.79],[.2675,.7775],[.2825,.7775],[.2975,.785],[.2675,.8175],[.2825,.8175],[.2975,.8125],[.2525,.77],[.2675,.765],[.2825,.7575],[.31,.81],[.31,.77],[.25,.785],[.245,.815],[.2775,.83],[.3,.825],[.27,.76],[.3075,.765],[.3,.76]];
const c28=[[.486,.763],[.507,.755],[.513,.752],[.492,.746],[.428,.748],[.438,.749],[.451,.753],[.435,.727],[.458,.738],[.512,.717],[.521,.693],[.529,.693],[.417,.686],[.430,.706],[.497,.686],[.423,.674],[.440,.656],[.458,.639],[.486,.638],[.472,.651],[.512,.659],[.536,.653],[.543,.655],[.497,.665],[.45,.72],[.465,.725],[.48,.73],[.495,.725],[.445,.705],[.46,.71],[.475,.715],[.49,.71],[.505,.705],[.44,.69],[.455,.695],[.47,.70],[.485,.695],[.50,.69],[.445,.675],[.46,.68],[.475,.685],[.49,.68],[.45,.665],[.465,.665],[.48,.665],[.46,.65],[.43,.685],[.47,.74],[.4575,.7125],[.4725,.7175],[.4875,.7175],[.4525,.7],[.4675,.7],[.4825,.7025],[.4975,.7025],[.4525,.685],[.4675,.69],[.4825,.6875],[.4975,.68],[.4525,.6675],[.4675,.6725],[.4825,.675],[.4575,.7275],[.4725,.735],[.4875,.74],[.4375,.7125],[.44,.6725],[.43,.7],[.51,.695],[.51,.68],[.47,.655],[.4825,.6525],[.5,.665],[.445,.725],[.42,.695],[.505,.72],[.435,.66]];
const c29=[[.066,.305],[.053,.298],[.080,.297],[.094,.308],[.124,.303],[.109,.290],[.097,.284],[.036,.276],[.034,.265],[.045,.265],[.066,.278],[.074,.277],[.126,.270],[.121,.264],[.040,.246],[.043,.232],[.124,.246],[.124,.232],[.146,.217],[.130,.216],[.121,.212],[.103,.213],[.052,.206],[.055,.191],[.077,.197],[.087,.203],[.071,.167],[.063,.198],[.111,.215],[.06,.26],[.075,.265],[.09,.265],[.105,.26],[.055,.245],[.07,.25],[.085,.25],[.10,.245],[.115,.245],[.05,.235],[.07,.235],[.096,.232],[.11,.23],[.065,.22],[.08,.215],[.095,.215],[.06,.21],[.075,.205],[.09,.28],[.07,.28],[.11,.265],[.065,.235],[.0675,.2575],[.0825,.2575],[.0975,.2575],[.0625,.2425],[.0775,.2425],[.0925,.2425],[.1075,.2375],[.0725,.2275],[.0575,.2275],[.0725,.2125],[.0875,.2075],[.1025,.2225],[.0675,.2725],[.0825,.2725],[.0975,.2725],[.1025,.2775],[.0575,.2175],[.0675,.2],[.1175,.2375],[.0475,.255],[.0775,.285],[.0725,.195],[.1125,.2225]];
const c30=[[.080,.565],[.094,.564],[.080,.552],[.068,.540],[.064,.536],[.053,.517],[.053,.494],[.123,.551],[.159,.553],[.170,.558],[.143,.530],[.152,.515],[.072,.509],[.074,.490],[.166,.498],[.154,.497],[.155,.474],[.060,.463],[.072,.472],[.086,.474],[.141,.459],[.123,.456],[.108,.450],[.095,.444],[.099,.453],[.143,.477],[.129,.541],[.092,.544],[.081,.529],[.10,.53],[.115,.535],[.13,.525],[.095,.515],[.11,.52],[.125,.51],[.14,.515],[.09,.50],[.105,.505],[.12,.495],[.135,.495],[.09,.485],[.105,.49],[.12,.48],[.135,.48],[.11,.475],[.125,.465],[.10,.465],[.115,.46],[.08,.49],[.1075,.5275],[.1225,.5325],[.1025,.5125],[.1175,.5125],[.1025,.4975],[.1125,.4975],[.1275,.4975],[.0975,.48],[.1125,.4825],[.1275,.4825],[.0825,.505],[.1175,.4675],[.105,.545],[.115,.545],[.13,.54],[.08,.475],[.095,.47],[.145,.5],[.14,.475],[.075,.5],[.15,.49]];
const clusters=[c00,c01,c02,c03,c04,c05,c06,c07,c08,c09,c10,c11,c12,c13,c14,c15,c16,c17,c18,c19,c20,c21,c22,c23,c24,c25,c26,c27,c28,c29,c30];

const W=1343,H=1295,L=84,R=1324,T=20,B=1227;
const x=d3.scaleLinear().domain([-0.0526,1.0535]).range([L,R]);
const y=d3.scaleLinear().domain([-0.0521,1.0522]).range([B,T]);
const color=d3.scaleSequential(d3.interpolateViridis).domain([0,clusters.length-1]);
const svg=d3.select("#chart").append("svg").attr("width",W).attr("height",H).attr("viewBox",`0 0 ${W} ${H}`);
svg.append("rect").attr("width",W).attr("height",H).attr("fill","#fff");
const plot=svg.append("g");
clusters.forEach((pts,i)=>{
  plot.append("g").attr("fill",color(i)).selectAll("circle").data(pts).join("circle")
    .attr("cx",d=>x(d[0])).attr("cy",d=>y(d[1])).attr("r",9.7);
});
const fmt=d3.format(".1f");
const ax=svg.append("g").attr("transform",`translate(0,${B})`).call(d3.axisBottom(x).tickValues(xTicks).tickFormat(fmt).tickSize(9.7).tickPadding(9.7));
const ay=svg.append("g").attr("transform",`translate(${L},0)`).call(d3.axisLeft(y).tickValues(yTicks).tickFormat(fmt).tickSize(9.7).tickPadding(9.7));
[ax,ay].forEach(a=>{
  a.select(".domain").remove();
  a.selectAll("line").attr("stroke","#000").attr("stroke-width",2.2);
  a.selectAll("text").attr("fill","#000").style("font-family","'DejaVu Sans'").style("font-size","27.8px").attr("font-size",null);
});
ay.selectAll("text").attr("dy","0.38em");
ax.selectAll("text").attr("dy","0.74em");
svg.append("rect").attr("x",L).attr("y",T).attr("width",R-L).attr("height",B-T).attr("fill","none").attr("stroke","#000").attr("stroke-width",2.2);
</script></body></html>
